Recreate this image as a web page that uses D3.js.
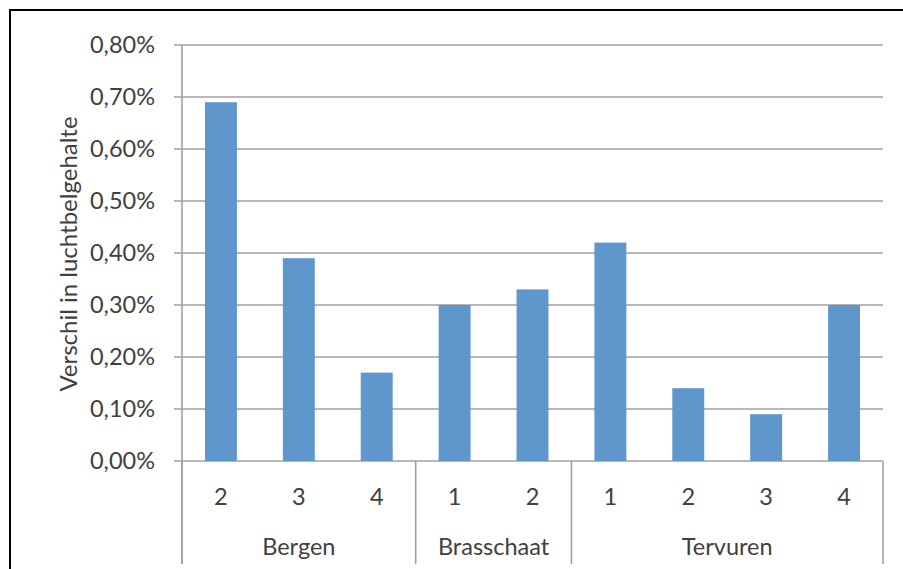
<!DOCTYPE html>
<html>
<head>
<meta charset="utf-8">
<script src="https://cdn.jsdelivr.net/npm/d3@7"></script>
<style>
  html, body { margin: 0; padding: 0; background: #fff; }
  svg { display: block; }
  text { font-family: Lato, "Open Sans", sans-serif; fill: #404040; }
</style>
</head>
<body>
<svg id="chart" width="903" height="569"></svg>
<script>
// Sites and sample numbers (two-level category axis)
const groups = ["Bergen", "Brasschaat", "Tervuren"];
const groupSizes = [3, 2, 4];
const samples = ["2", "3", "4", "1", "2", "1", "2", "3", "4"];
// Difference in air content, percent
const values = [0.69, 0.39, 0.17, 0.30, 0.33, 0.42, 0.14, 0.09, 0.30];
const yTicks = [0, 0.1, 0.2, 0.3, 0.4, 0.5, 0.6, 0.7, 0.8];
const yTitle = "Verschil in luchtbelgehalte";

const svg = d3.select("#chart");
const plotLeft = 182, plotRight = 883, plotTop = 45, plotBottom = 461;
const axisBottom = 564;
const gridColor = "#a0a0a0";
const fs = 23.5;

// Frame
svg.append("rect")
  .attr("x", 10).attr("y", 10).attr("width", 1000).attr("height", 1000)
  .attr("fill", "none").attr("stroke", "#000").attr("stroke-width", 2);

const idx = d3.range(values.length);
const x = d3.scaleBand().domain(idx).range([plotLeft, plotRight]).paddingInner(0).paddingOuter(0);
const y = d3.scaleLinear().domain([0, 0.8]).range([plotBottom, plotTop]);

// Horizontal gridlines with outward ticks
svg.append("g").selectAll("line").data(yTicks).join("line")
  .attr("x1", plotLeft - 8).attr("x2", plotRight)
  .attr("y1", d => y(d)).attr("y2", d => y(d))
  .attr("stroke", gridColor).attr("stroke-width", 1.6);

// Y tick labels
svg.append("g").selectAll("text").data(yTicks).join("text")
  .attr("x", 155).attr("y", d => y(d))
  .attr("dy", "0.36em")
  .attr("text-anchor", "end")
  .attr("font-size", fs)
  .text(d => d3.format(".2f")(d).replace(".", ",") + "%");

// Y axis title
svg.append("text")
  .attr("transform", `translate(77, 254) rotate(-90)`)
  .attr("text-anchor", "middle")
  .attr("font-size", 24)
  .text(yTitle);

// Bars
const bw = x.bandwidth() * 0.41;
svg.append("g").selectAll("rect").data(idx).join("rect")
  .attr("x", i => x(i) + (x.bandwidth() - bw) / 2)
  .attr("width", bw)
  .attr("y", i => y(values[i]))
  .attr("height", i => y(0) - y(values[i]))
  .attr("fill", "#5f96cb");

// Y axis line
svg.append("line")
  .attr("x1", plotLeft).attr("x2", plotLeft).attr("y1", plotTop).attr("y2", axisBottom)
  .attr("stroke", gridColor).attr("stroke-width", 1.6);

// Group separators on the category axis
let acc = 0;
const bounds = [0];
groupSizes.forEach(n => { acc += n; bounds.push(acc); });
const bx = b => b === values.length ? plotRight : x(b);
svg.append("g").selectAll("line").data(bounds).join("line")
  .attr("x1", bx).attr("x2", bx)
  .attr("y1", plotBottom).attr("y2", axisBottom)
  .attr("stroke", gridColor).attr("stroke-width", 1.6);

// Sample labels
svg.append("g").selectAll("text").data(idx).join("text")
  .attr("x", i => x(i) + x.bandwidth() / 2)
  .attr("y", 497).attr("dy", "0.36em")
  .attr("text-anchor", "middle")
  .attr("font-size", fs)
  .text(i => samples[i]);

// Group labels
svg.append("g").selectAll("text").data(groups).join("text")
  .attr("x", (g, k) => (bx(bounds[k]) + bx(bounds[k + 1])) / 2)
  .attr("y", 547).attr("dy", "0.36em")
  .attr("text-anchor", "middle")
  .attr("font-size", fs)
  .text(g => g);
</script>
</body>
</html>
